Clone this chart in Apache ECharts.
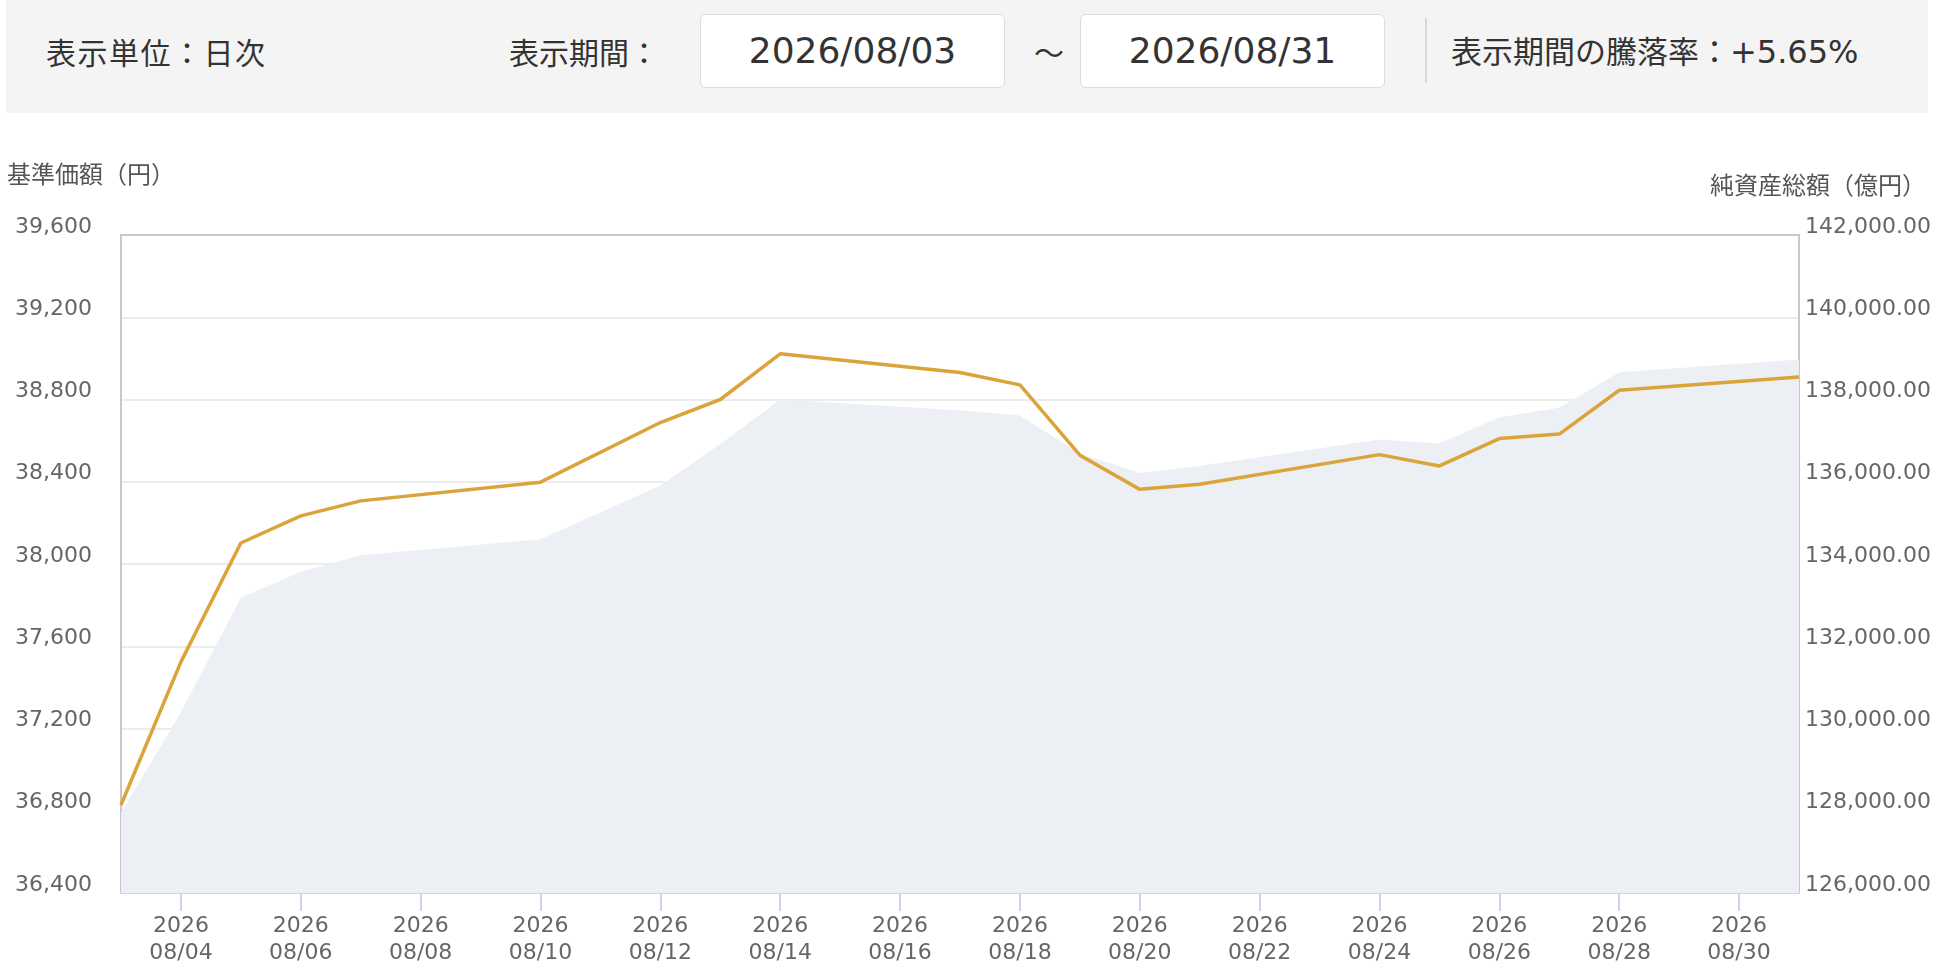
<!DOCTYPE html>
<html lang="ja">
<head>
<meta charset="utf-8">
<title>基準価額・純資産総額</title>
<script src="https://cdn.jsdelivr.net/npm/echarts@6.0.0/dist/echarts.min.js"></script>
<style>
  html, body { margin: 0; padding: 0; background: #fff; }
  body { width: 1946px; height: 970px; position: relative; overflow: hidden;
         font-family: "Noto Sans CJK JP", "Noto Sans", sans-serif; color: #333; }
  #chart { position: absolute; left: 0; top: 0; width: 1946px; height: 970px; }
  .head { position: absolute; left: 6px; top: 0; width: 1922px; height: 113px; background: #f4f4f4; }
  .lbl { position: absolute; top: 51px; transform: translateY(-50%); font-size: 30px; line-height: 1; white-space: nowrap; }
  .num { font-family: "DejaVu Sans", "Noto Sans CJK JP", sans-serif; font-size: 32px; }
  .box { position: absolute; top: 14px; width: 303px; height: 72px; background: #fff;
         border: 1.5px solid #dcdcdc; border-radius: 6px; font-size: 36px; line-height: 72px;
         text-align: center; font-family: "DejaVu Sans", sans-serif; }
  .sep { position: absolute; left: 1419px; top: 18px; width: 1.5px; height: 65px; background: #d8d8d8; }
</style>
</head>
<body>
<div id="chart"></div>
<div class="head">
  <div class="lbl" style="left:40px; letter-spacing:1.5px">表示単位：日次</div>
  <div class="lbl" style="left:503px">表示期間：</div>
  <div class="box" style="left:694px">2026/08/03</div>
  <div class="lbl" style="left:1028px">〜</div>
  <div class="box" style="left:1074px">2026/08/31</div>
  <div class="sep"></div>
  <div class="lbl" style="left:1445px; font-size:31px">表示期間の騰落率：<span class="num">+5.65%</span></div>
</div>
<script>
// 日付（2026年8月）
const days = [
  "08/03", "08/04", "08/05", "08/06", "08/07", "08/08", "08/09",
  "08/10", "08/11", "08/12", "08/13", "08/14", "08/15", "08/16",
  "08/17", "08/18", "08/19", "08/20", "08/21", "08/22", "08/23",
  "08/24", "08/25", "08/26", "08/27", "08/28", "08/29", "08/30", "08/31"
];
// 基準価額（円） 休日は null
const navPrice = [
  36828, 37524, 38102, 38234, 38307, null, null,
  38398, null, 38688, 38800, 39022, null, null,
  38931, 38871, 38529, 38363, 38388, null, null,
  38532, 38477, 38610, 38632, 38845, null, null, 38909
];
// 純資産総額（億円）
const netAssets = [
  127950, 130400, 133180, 133810, 134210, null, null,
  134600, null, 135910, 136920, 138000, null, null,
  137740, 137610, 136690, 136210, 136380, null, null,
  137030, 136930, 137570, 137800, 138660, null, null, 138970
];

const labelFont = "DejaVu Sans";
const oddOnly = function (index) { return index % 2 === 1; };

var myChart = echarts.init(document.getElementById("chart"));
var option = {
  animation: false,
  grid: { left: 121, right: 147, top: 235, bottom: 77 },
  graphic: [
    {
      type: "text", left: 7, top: 162,
      style: { text: "基準価額（円）", fontSize: 24, fill: "#555", fontFamily: "Noto Sans CJK JP" }
    },
    {
      type: "text", right: 20, top: 173,
      style: { text: "純資産総額（億円）", fontSize: 24, fill: "#555", fontFamily: "Noto Sans CJK JP" }
    }
  ],
  xAxis: [
    {
      type: "category",
      data: days,
      boundaryGap: false,
      axisLine: { lineStyle: { color: "#ccd6eb", width: 2 } },
      axisTick: { interval: oddOnly, length: 18, lineStyle: { color: "#ccd6eb", width: 2 } },
      axisLabel: {
        interval: oddOnly,
        formatter: function (v) { return "2026\n" + v; },
        color: "#666", fontSize: 22, lineHeight: 27, margin: 20, fontFamily: labelFont
      },
      splitLine: { show: false }
    },
    {
      type: "category",
      data: days,
      position: "top",
      boundaryGap: false,
      axisLine: { lineStyle: { color: "#c8c8c8", width: 2 } },
      axisTick: { show: false },
      axisLabel: { show: false }
    }
  ],
  yAxis: [
    {
      type: "value",
      min: 36400, max: 39600, interval: 400,
      axisLine: { show: true, lineStyle: { color: "#c8c8c8", width: 2 } },
      axisTick: { show: false },
      splitLine: { lineStyle: { color: "#e6e6e6", width: 1.5 } },
      axisLabel: {
        color: "#666", fontSize: 22, margin: 29, fontFamily: labelFont,
        verticalAlign: "bottom", lineHeight: 16,
        formatter: function (v) { return v.toLocaleString("en-US"); }
      }
    },
    {
      type: "value",
      min: 126000, max: 142000, interval: 2000,
      position: "right",
      axisLine: { show: true, lineStyle: { color: "#c8c8c8", width: 2 } },
      axisTick: { show: false },
      splitLine: { show: false },
      axisLabel: {
        color: "#666", fontSize: 22, margin: 6, fontFamily: labelFont,
        verticalAlign: "bottom", lineHeight: 16,
        formatter: function (v) {
          return v.toLocaleString("en-US", { minimumFractionDigits: 2, maximumFractionDigits: 2 });
        }
      }
    }
  ],
  series: [
    {
      name: "純資産総額",
      type: "line",
      yAxisIndex: 1,
      data: netAssets,
      connectNulls: true,
      symbol: "none",
      lineStyle: { width: 0, color: "#ecf0f5" },
      areaStyle: { color: "#ecf0f5", opacity: 1 },
      z: 1
    },
    {
      name: "基準価額",
      type: "line",
      yAxisIndex: 0,
      data: navPrice,
      connectNulls: true,
      symbol: "none",
      lineStyle: { width: 3.5, color: "#daa43a" },
      z: 3
    }
  ]
};
myChart.setOption(option);
</script>
</body>
</html>
